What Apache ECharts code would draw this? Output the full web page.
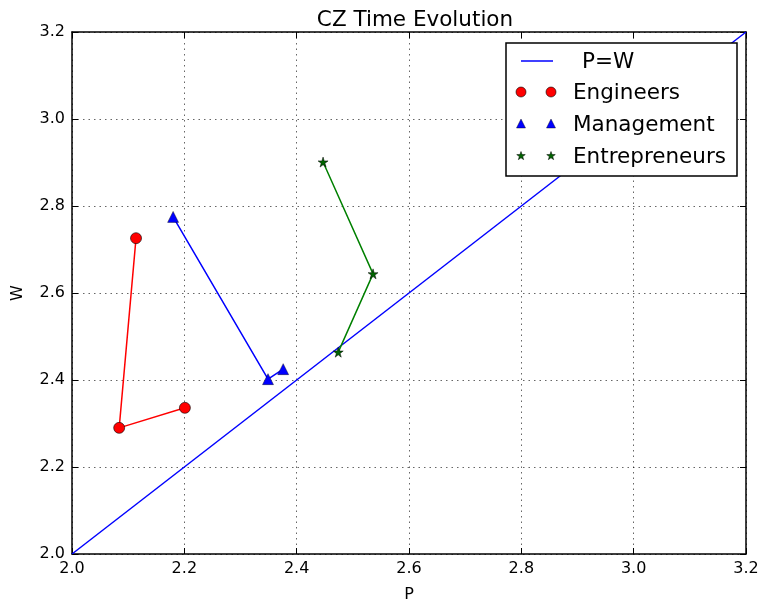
<!DOCTYPE html>
<html><head><meta charset="utf-8">
<script src="https://cdn.jsdelivr.net/npm/echarts@6/dist/echarts.min.js"></script>
<style>html,body{margin:0;padding:0;background:#fff}#c{width:760px;height:603px}</style>
</head><body><div id="c"></div>
<script>
const engineersP = [2.114, 2.084, 2.201];
const engineersW = [2.726, 2.290, 2.336];
const managementP = [2.180, 2.349, 2.376];
const managementW = [2.775, 2.402, 2.425];
const entrepreneursP = [2.447, 2.536, 2.474];
const entrepreneursW = [2.901, 2.644, 2.464];
const identityP = [2.0, 3.2];
const identityW = [2.0, 3.2];
const legendNames = ['P=W', 'Engineers', 'Management', 'Entrepreneurs'];

const FONT = 'DejaVu Sans';
const zip = (a, b) => a.map((v, i) => [v, b[i]]);
const chart = echarts.init(document.getElementById('c'));
const fmt = v => v.toFixed(1);
const gridLine = {show: true, lineStyle: {color: '#000', type: [1.5, 4], width: 1, opacity: 0.6}};
const baseAxis = {
  type: 'value', min: 2.0, max: 3.2, interval: 0.2,
  axisLine: {show: true, onZero: false, lineStyle: {color: '#000', width: 1.5}},
  axisTick: {show: true, inside: true, length: 6, lineStyle: {color: '#000', width: 1}},
};
const starPath = 'path://M50,0 L61,35 L98,35 L68,57 L79,91 L50,70 L21,91 L32,57 L2,35 L39,35 Z';

const lx = 506, ly = 43, lw = 231, lh = 133;
const rowY = [62, 93, 125, 157];
const LFONT = '21.5px "DejaVu Sans"';
const legendGraphic = [
  {type: 'rect', shape: {x: lx, y: ly, width: lw, height: lh}, style: {fill: '#fff', stroke: '#000', lineWidth: 1.5}, z: 100},
  {type: 'line', shape: {x1: 521, y1: rowY[0] - 1, x2: 553, y2: rowY[0] - 1}, style: {stroke: '#0000ff', lineWidth: 1.5}, z: 101},
  {type: 'text', style: {text: legendNames[0], x: 582, y: rowY[0], verticalAlign: 'middle', font: LFONT, fill: '#000'}, z: 101},
];
[[legendNames[1], 'circle', '#ff0000'], [legendNames[2], 'triangle', '#0000ff'], [legendNames[3], 'star', '#006400']].forEach((e, i) => {
  const y = rowY[i + 1] - 1;
  [521, 551].forEach(x => {
    if (e[1] === 'circle') legendGraphic.push({type: 'circle', shape: {cx: x, cy: y, r: 5}, style: {fill: e[2], stroke: '#000', lineWidth: 0.6}, z: 101});
    else if (e[1] === 'triangle') legendGraphic.push({type: 'polygon', shape: {points: [[x, y - 5], [x + 4.5, y + 4], [x - 4.5, y + 4]]}, style: {fill: e[2], stroke: '#000', lineWidth: 0.4}, z: 101});
    else {
      const pts = [];
      for (let k = 0; k < 10; k++) { const r = k % 2 ? 1.8 : 4.5; const a = -Math.PI / 2 + k * Math.PI / 5; pts.push([x + r * Math.cos(a), y + r * Math.sin(a)]); }
      legendGraphic.push({type: 'polygon', shape: {points: pts}, style: {fill: e[2], stroke: '#000', lineWidth: 0.5}, z: 101});
    }
  });
  legendGraphic.push({type: 'text', style: {text: e[0], x: 573, y: rowY[i + 1], verticalAlign: 'middle', font: LFONT, fill: '#000'}, z: 101});
});

chart.setOption({
  animation: false,
  textStyle: {fontFamily: FONT},
  title: {text: 'CZ Time Evolution', left: 410, top: 4, textAlign: 'center',
    textStyle: {fontFamily: FONT, fontSize: 21.5, fontWeight: 'normal', color: '#000'}},
  grid: {left: 72, right: 14, top: 32, bottom: 49, outerBoundsMode: 'none', containLabel: false},
  xAxis: [
    Object.assign({}, baseAxis, {position: 'bottom', name: 'P', nameLocation: 'middle', nameGap: 33,
      nameTextStyle: {fontFamily: FONT, fontSize: 16, color: '#000'},
      axisLabel: {formatter: fmt, fontFamily: FONT, fontSize: 16, color: '#000', margin: 7}, splitLine: gridLine}),
    Object.assign({}, baseAxis, {position: 'top', axisLabel: {show: false}, splitLine: {show: false}})
  ],
  yAxis: [
    Object.assign({}, baseAxis, {position: 'left', name: 'W', nameLocation: 'middle', nameGap: 46,
      nameTextStyle: {fontFamily: FONT, fontSize: 16, color: '#000'},
      axisLabel: {formatter: fmt, fontFamily: FONT, fontSize: 16, color: '#000', margin: 7}, splitLine: gridLine}),
    Object.assign({}, baseAxis, {position: 'right', axisLabel: {show: false}, splitLine: {show: false}})
  ],
  series: [
    {name: legendNames[0], type: 'line', data: zip(identityP, identityW), showSymbol: false, symbol: 'none',
      lineStyle: {color: '#0000ff', width: 1.5}, z: 2},
    {name: legendNames[1], type: 'line', data: zip(engineersP, engineersW), symbol: 'circle', symbolSize: 11,
      lineStyle: {color: '#ff0000', width: 1.5}, itemStyle: {color: '#ff0000', borderColor: '#000', borderWidth: 0.6}, z: 3},
    {name: legendNames[2], type: 'line', data: zip(managementP, managementW), symbol: 'triangle', symbolSize: 11,
      lineStyle: {color: '#0000ff', width: 1.5}, itemStyle: {color: '#0000ff', borderColor: '#000', borderWidth: 0.4}, z: 3},
    {name: legendNames[3], type: 'line', data: zip(entrepreneursP, entrepreneursW), symbol: starPath, symbolSize: 10,
      lineStyle: {color: '#008000', width: 1.5}, itemStyle: {color: '#006400', borderColor: '#000', borderWidth: 0.5}, z: 3}
  ],
  graphic: legendGraphic
});
</script></body></html>
